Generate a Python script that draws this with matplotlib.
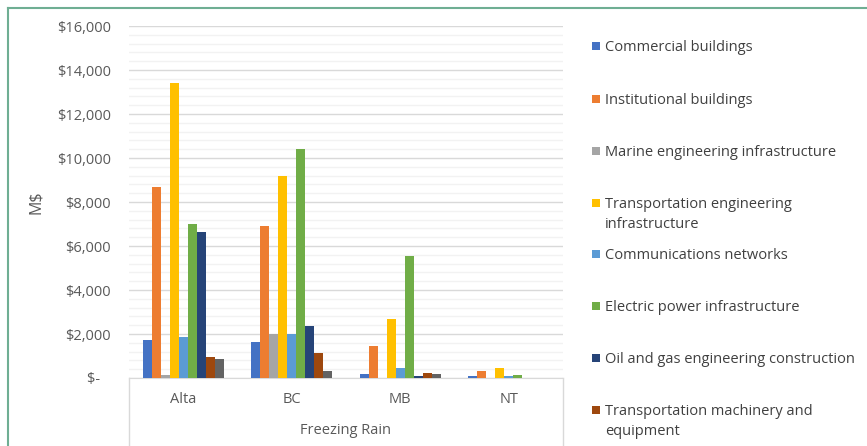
import numpy as np
import matplotlib
matplotlib.use("Agg")
import matplotlib.pyplot as plt
from matplotlib.patches import Rectangle
from matplotlib.ticker import MultipleLocator, FuncFormatter

plt.rcParams['font.family'] = ['Open Sans', 'DejaVu Sans']

# provinces and damage by sector (M$), freezing rain
provinces = ['Alta', 'BC', 'MB', 'NT']
sectors = ['Commercial buildings',
           'Institutional buildings',
           'Marine engineering infrastructure',
           'Transportation engineering\ninfrastructure',
           'Communications networks',
           'Electric power infrastructure',
           'Oil and gas engineering construction',
           'Transportation machinery and\nequipment',
           'Other']
commercial = [1750, 1650, 200, 80]
institutional = [8700, 6900, 1450, 330]
marine = [120, 2000, 20, 0]
transport_eng = [13400, 9200, 2700, 450]
communications = [1850, 2000, 450, 80]
electric = [7000, 10400, 5550, 150]
oil_gas = [6650, 2350, 100, 0]
machinery = [950, 1150, 220, 0]
other = [880, 300, 170, 0]
series = [commercial, institutional, marine, transport_eng, communications,
          electric, oil_gas, machinery, other]
colors = ['#4472C4', '#ED7D31', '#A5A5A5', '#FFC000', '#5B9BD5',
          '#70AD47', '#264478', '#9E480E', '#636363']

W, H = 867, 446
fig = plt.figure(figsize=(W / 100, H / 100), dpi=100)

# outer frame (top and left edges visible)
fig.add_artist(plt.Line2D([8 / W, 8 / W], [0, 1 - 8 / H], color='#6FAE93', lw=1.5))
fig.add_artist(plt.Line2D([8 / W, 1], [1 - 8 / H, 1 - 8 / H], color='#6FAE93', lw=1.5))

left, right, top, bottom = 129, 563, 26, 378
ax = fig.add_axes([left / W, 1 - bottom / H, (right - left) / W, (bottom - top) / H])

x = np.arange(len(provinces))
n = len(series)
bw = 0.083
for i, (vals, c) in enumerate(zip(series, colors)):
    ax.bar(x + (i - (n - 1) / 2) * bw, vals, width=bw, color=c, zorder=3)

ax.set_xlim(-0.5, len(provinces) - 0.5)
ax.set_ylim(0, 16000)
ax.yaxis.set_major_locator(MultipleLocator(2000))
ax.yaxis.set_minor_locator(MultipleLocator(400))
ax.yaxis.set_major_formatter(FuncFormatter(lambda v, p: '$-   ' if v == 0 else f'${v:,.0f}'))
ax.grid(axis='y', which='major', color='#D9D9D9', lw=1, zorder=0)
ax.grid(axis='y', which='minor', color='#F2F2F2', lw=1, zorder=0)
ax.tick_params(axis='y', which='both', length=0, pad=13, labelsize=10.5, colors='#595959')
ax.tick_params(axis='x', length=0, pad=10, labelsize=10.5, colors='#595959')
ax.set_xticks(x)
ax.set_xticklabels(provinces)
for s in ['top', 'right', 'left']:
    ax.spines[s].set_visible(False)
ax.spines['bottom'].set_color('#D9D9D9')
ax.set_ylabel('M$', fontsize=11.5, color='#595959', labelpad=9)

# category box below the axis
for xe in [0, 1]:
    ax.plot([xe, xe], [0, -0.2], transform=ax.transAxes, color='#D9D9D9', lw=1, clip_on=False)
ax.text(0.5, -(431 - bottom) / (bottom - top), 'Freezing Rain', transform=ax.transAxes,
        ha='center', va='center', fontsize=10.5, color='#595959')

# legend
ys = [46, 99, 151, 203, 254, 306, 358, 410]
for lab, c, yy in zip(sectors[:8], colors[:8], ys):
    fig.add_artist(Rectangle((592 / W, 1 - (yy + 4) / H), 8 / W, 8 / H,
                             facecolor=c, edgecolor='none', transform=fig.transFigure))
    fig.text(605 / W, 1 - (yy - 6) / H, lab, ha='left', va='top', fontsize=10.5,
             color='#404040', linespacing=1.45)

fig.savefig('out.png', dpi=100)
